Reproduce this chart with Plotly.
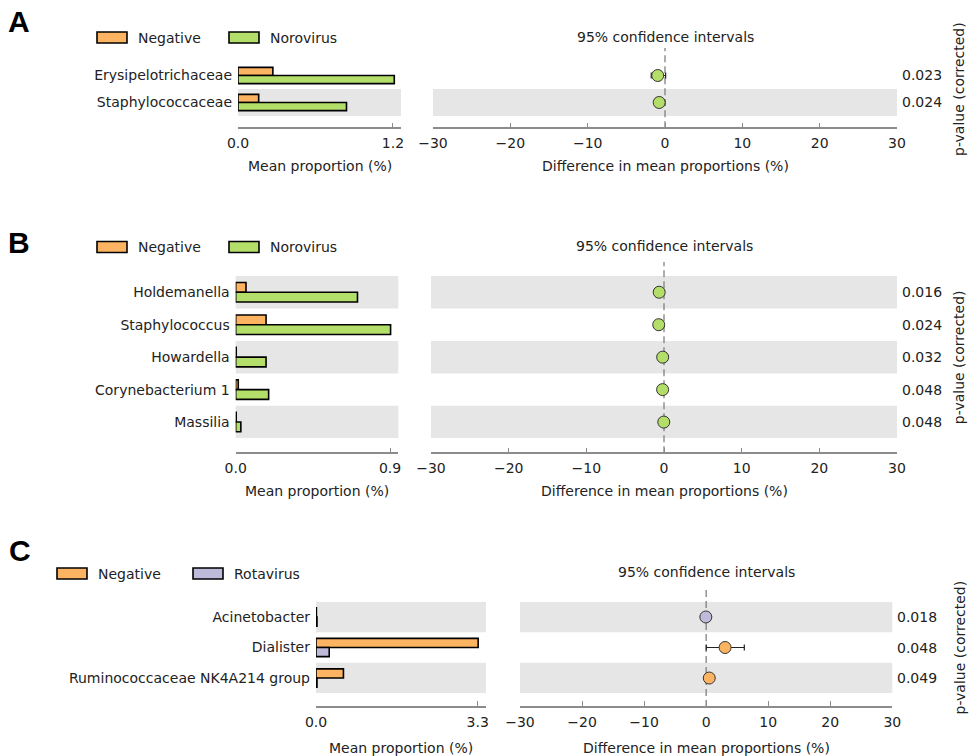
import plotly.graph_objects as go

W, H = 970, 756

# ---------------- data ----------------
# Panel A: Negative vs Norovirus (family level)
a_taxa = ["Erysipelotrichaceae", "Staphylococcaceae"]
a_neg = [0.27, 0.16]
a_grp = [1.21, 0.84]
a_diff = [-0.94, -0.75]
a_ci_lo = [-1.78, -1.30]
a_ci_hi = [0.08, -0.05]
a_p = ["0.023", "0.024"]
a_bar_ticks = [0.0, 1.2]
a_bar_max = 1.262

# Panel B: Negative vs Norovirus (genus level)
b_taxa = ["Holdemanella", "Staphylococcus", "Howardella", "Corynebacterium 1", "Massilia"]
b_neg = [0.06, 0.177, 0.003, 0.015, 0.003]
b_grp = [0.71, 0.903, 0.177, 0.192, 0.03]
b_diff = [-0.62, -0.68, -0.17, -0.18, -0.03]
b_ci_lo = [-1.05, -1.25, -0.30, -0.33, -0.06]
b_ci_hi = [-0.12, -0.08, -0.04, -0.03, -0.005]
b_p = ["0.016", "0.024", "0.032", "0.048", "0.048"]
b_bar_ticks = [0.0, 0.9]
b_bar_max = 0.948

# Panel C: Negative vs Rotavirus (genus level)
c_taxa = ["Acinetobacter", "Dialister", "Ruminococcaceae NK4A214 group"]
c_neg = [0.008, 3.31, 0.56]
c_grp = [0.02, 0.27, 0.02]
c_diff = [-0.05, 3.05, 0.50]
c_ci_lo = [-0.09, 0.02, 0.10]
c_ci_hi = [-0.01, 6.15, 0.95]
c_p = ["0.018", "0.048", "0.049"]
c_bar_ticks = [0.0, 3.3]
c_bar_max = 3.47

ci_ticks = [-30, -20, -10, 0, 10, 20, 30]

# ---------------- styling ----------------
NEG = "#FDB462"
NORO = "#B3DE69"
ROTA = "#BEBADA"
BAND = "#E6E6E6"
SPINE = "#8C8C8C"
TXT = "#222222"
FONT = "DejaVu Sans"
FS = 14


def fx(px):
    return px / W


def fy(py):
    return 1 - py / H


panels = [
    dict(key="A", taxa=a_taxa, neg=a_neg, grp=a_grp, diff=a_diff, lo=a_ci_lo, hi=a_ci_hi,
         p=a_p, ticks=a_bar_ticks, bmax=a_bar_max, gname="Norovirus", gcol=NORO,
         bar_x=(238, 401), ci_x=(433, 897), rows=(62, 116), spine=128.3, title_off=37.5,
         letter=(19, 21), legend_y=37.5, legend_x=(97, 229), title_y=37),
    dict(key="B", taxa=b_taxa, neg=b_neg, grp=b_grp, diff=b_diff, lo=b_ci_lo, hi=b_ci_hi,
         p=b_p, ticks=b_bar_ticks, bmax=b_bar_max, gname="Norovirus", gcol=NORO,
         bar_x=(235.7, 398.3), ci_x=(431, 897), rows=(276, 438.3), spine=453.3, title_off=38,
         letter=(19, 243), legend_y=247, legend_x=(97, 229), title_y=246),
    dict(key="C", taxa=c_taxa, neg=c_neg, grp=c_grp, diff=c_diff, lo=c_ci_lo, hi=c_ci_hi,
         p=c_p, ticks=c_bar_ticks, bmax=c_bar_max, gname="Rotavirus", gcol=ROTA,
         bar_x=(316, 486), ci_x=(520, 892.3), rows=(601.7, 693.3), spine=707, title_off=41,
         letter=(20, 550), legend_y=573.5, legend_x=(57, 193), title_y=572),
]

fig = go.Figure()
layout = dict(
    width=W, height=H,
    margin=dict(l=0, r=0, t=0, b=0, pad=0, autoexpand=False),
    paper_bgcolor="white", plot_bgcolor="white",
    barmode="group", bargap=0.4, bargroupgap=0.0,
    showlegend=False,
    font=dict(family=FONT, size=FS, color=TXT),
)
shapes = []
annotations = []

for i, pn in enumerate(panels):
    bx = "x" if i == 0 else f"x{2 * i + 1}"
    by = "y" if i == 0 else f"y{2 * i + 1}"
    cx = f"x{2 * i + 2}"
    cy = f"y{2 * i + 2}"
    n = len(pn["taxa"])
    ydom = [fy(pn["rows"][1]), fy(pn["rows"][0])]
    yrange = [n - 0.5, -0.5]

    ax_common = dict(
        anchor="free", position=fy(pn["spine"]), automargin=False,
        showline=True, linecolor=SPINE, linewidth=1.5,
        ticks="inside", ticklen=5, tickwidth=1.2, tickcolor=SPINE,
        ticklabelstandoff=2,
        showgrid=False, zeroline=False,
        tickfont=dict(family=FONT, size=FS, color=TXT),
    )
    layout[bx.replace("x", "xaxis")] = dict(
        domain=[fx(pn["bar_x"][0]), fx(pn["bar_x"][1])],
        range=[0, pn["bmax"]],
        tickvals=pn["ticks"], ticktext=[f"{t:.1f}" for t in pn["ticks"]],
        **ax_common,
    )
    layout[cx.replace("x", "xaxis")] = dict(
        domain=[fx(pn["ci_x"][0]), fx(pn["ci_x"][1])],
        range=[-30, 30], tickvals=ci_ticks,
        **ax_common,
    )
    layout[by.replace("y", "yaxis")] = dict(
        domain=ydom, anchor=bx, type="category", categoryarray=pn["taxa"],
        range=yrange, showline=False, showgrid=False, zeroline=False, ticks="",
        ticklabelstandoff=5, automargin=False,
        tickfont=dict(family=FONT, size=FS, color=TXT),
    )
    layout[cy.replace("y", "yaxis")] = dict(
        domain=ydom, anchor=cx, type="category", categoryarray=pn["taxa"],
        range=yrange, showline=False, showgrid=False, zeroline=False,
        showticklabels=False, ticks="", automargin=False,
    )

    # alternating row shading, bottom row shaded
    for r in range(n):
        if (n - 1 - r) % 2 == 0:
            for xr, yr in ((bx, by), (cx, cy)):
                shapes.append(dict(
                    type="rect", xref=f"{xr} domain", x0=0, x1=1,
                    yref=yr, y0=r - 0.5, y1=r + 0.5,
                    fillcolor=BAND, line=dict(width=0), layer="below",
                ))

    # dashed zero line in CI panel
    shapes.append(dict(
        type="line", xref=cx, x0=0, x1=0, yref="paper",
        y0=fy(pn["spine"]), y1=fy(pn["rows"][0] - 14),
        line=dict(color="#777777", width=1.2, dash="7px,4px"), layer="below",
    ))

    # mean proportion bars
    fig.add_trace(go.Bar(
        x=pn["neg"], y=pn["taxa"], orientation="h", name="Negative",
        marker=dict(color=NEG, line=dict(color="black", width=1.6)),
        xaxis=bx, yaxis=by,
    ))
    fig.add_trace(go.Bar(
        x=pn["grp"], y=pn["taxa"], orientation="h", name=pn["gname"],
        marker=dict(color=pn["gcol"], line=dict(color="black", width=1.6)),
        xaxis=bx, yaxis=by,
    ))

    # difference with 95% CI
    colors = [NEG if d > 0 else pn["gcol"] for d in pn["diff"]]
    fig.add_trace(go.Scatter(
        x=pn["diff"], y=pn["taxa"], mode="markers",
        marker=dict(size=12, color=colors, line=dict(color="#333333", width=1)),
        error_x=dict(
            type="data", symmetric=False,
            array=[h - d for h, d in zip(pn["hi"], pn["diff"])],
            arrayminus=[d - l for d, l in zip(pn["diff"], pn["lo"])],
            color="#222222", thickness=1.2, width=3,
        ),
        xaxis=cx, yaxis=cy,
    ))

    # p-values
    for t, p in zip(pn["taxa"], pn["p"]):
        annotations.append(dict(
            text=p, xref="paper", x=fx(pn["ci_x"][1] + 3), xanchor="left",
            yref=cy, y=t, yanchor="middle", showarrow=False,
            font=dict(family=FONT, size=FS, color=TXT),
        ))
    annotations.append(dict(
        text="p-value (corrected)", textangle=-90, xref="paper", x=fx(959),
        xanchor="center", yref="paper", y=fy((pn["rows"][0] + pn["rows"][1]) / 2),
        yanchor="middle", showarrow=False,
        font=dict(family=FONT, size=FS, color=TXT),
    ))

    # axis titles
    annotations.append(dict(
        text="Mean proportion (%)", xref="paper",
        x=fx((pn["bar_x"][0] + pn["bar_x"][1]) / 2), yref="paper",
        y=fy(pn["spine"] + pn["title_off"]), xanchor="center", yanchor="middle",
        showarrow=False, font=dict(family=FONT, size=FS, color=TXT),
    ))
    annotations.append(dict(
        text="Difference in mean proportions (%)", xref=cx, x=0, yref="paper",
        y=fy(pn["spine"] + pn["title_off"]), xanchor="center", yanchor="middle",
        showarrow=False, font=dict(family=FONT, size=FS, color=TXT),
    ))
    annotations.append(dict(
        text="95% confidence intervals", xref=cx, x=0, yref="paper",
        y=fy(pn["title_y"]), xanchor="center", yanchor="middle", showarrow=False,
        font=dict(family=FONT, size=FS, color=TXT),
    ))

    # panel letter
    annotations.append(dict(
        text="<b>" + pn["key"] + "</b>", xref="paper", x=fx(pn["letter"][0]), yref="paper",
        y=fy(pn["letter"][1]), xanchor="center", yanchor="middle", showarrow=False,
        font=dict(family="Liberation Sans", size=30, color="black"),
    ))

    # legend
    ly = pn["legend_y"]
    for lx, col, name in ((pn["legend_x"][0], NEG, "Negative"),
                          (pn["legend_x"][1], pn["gcol"], pn["gname"])):
        shapes.append(dict(
            type="rect", xref="paper", yref="paper",
            x0=fx(lx), x1=fx(lx + 30), y0=fy(ly + 5.5), y1=fy(ly - 5.5),
            fillcolor=col, line=dict(color="black", width=1.6),
        ))
        annotations.append(dict(
            text=name, xref="paper", x=fx(lx + 39), xanchor="left",
            yref="paper", y=fy(ly), yanchor="middle", showarrow=False,
            font=dict(family=FONT, size=FS, color=TXT),
        ))

layout["shapes"] = shapes
layout["annotations"] = annotations
fig.update_layout(**layout)
fig.write_html("out.html")
